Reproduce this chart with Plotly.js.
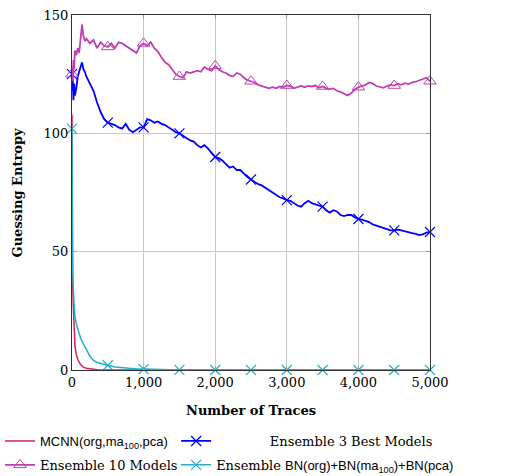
<!DOCTYPE html>
<html>
<head>
<meta charset="utf-8">
<script src="https://cdn.plot.ly/plotly-3.0.1.min.js"></script>
<style>html,body{margin:0;padding:0;background:#fff;}#chart{width:515px;height:476px;}</style>
</head>
<body>
<div id="chart"></div>
<script>
// x grid (number of traces) shared by the two upper curves
const xMain = [0,5,10,20,30,40,60,80,100,120,140,160,180,200,250,300,350,400,450,500,
  550,600,650,700,750,800,850,900,950,1000,1050,1100,1150,1200,1250,1300,1350,1400,1450,1500,
  1550,1600,1650,1700,1750,1800,1850,1900,1950,2000,2050,2100,2150,2200,2250,2300,2350,2400,2450,2500,
  2550,2600,2650,2700,2750,2800,2850,2900,2950,3000,3050,3100,3150,3200,3250,3300,3350,3400,3450,3500,
  3550,3600,3650,3700,3750,3800,3850,3900,3950,4000,4050,4100,4150,4200,4250,4300,4350,4400,4450,4500,
  4550,4600,4650,4700,4750,4800,4850,4900,4950,5000];

const ens10 = [125,128,122,131,127,135,133,136,134,140,146,141,139,140,138,139.5,136,138.5,137,136.5,
  138,136,138.5,138,137,136,135,134,137,138,137,138.5,136,134.5,132,130,129,127,125,124,
  123.5,126,125.5,126,126.5,126,128,127,126.5,128.5,127,126,125.5,124.5,124,125.5,125,123.5,122.5,122,
  121.5,120.5,120,119.5,119,119.5,119,119.8,119.5,120.2,120,119,119.5,120,119.5,120,119.8,120.2,119.3,119.8,
  119,118.7,119,118,117.5,116.8,116,117,118.5,119.5,120,120.5,121.5,121,120,119.5,119.2,120,120.5,120.2,
  121,120.5,121.2,120.8,121.5,121.8,122.3,123,123.5,122];

const ens3 = [125,118,123,114,121,116,119,124,126,128,130,127,126,124,121,118,113,109,106,104.5,
  104,103.5,102.5,102,104,101.5,100.5,101.5,102.5,102.5,106,105.5,104.5,105,104,103.5,102.5,101.5,100.5,100,
  99,98,97,96.5,95,94,95,93.5,91.5,90,89.5,88.5,87,85.5,86,84.5,84.5,83,81.5,80.5,
  79.5,78.5,78,77,76,75,74,73,72.5,71.8,71.5,70.5,69.5,69,70.5,71.5,70.5,70,69.5,69,
  67.5,66.5,67.5,67,65.5,65,65.5,65.5,64.5,63.8,63.5,63,62.5,61.5,61,60.5,60,59.5,59,59,
  59.3,59,58.5,58.2,57.8,57.5,57,57.3,58,58.3];

const xBN = [0,5,10,20,30,40,60,80,100,120,140,160,180,200,250,300,350,400,450,500,
  600,700,800,900,1000,1200,1500,2000,2500,3000,3500,4000,4500,5000];
const ensBN = [102,60,42,33,28,23,19.5,17,15.5,13.5,12.5,11,9.7,8.8,5.8,4,3.2,2.9,2.3,2,
  1.3,0.9,0.7,0.5,0.4,0.2,0.05,0,0,0,0,0,0,0];

const xMCNN = [0,3,8,18,28,42,60,84,120,154,200,250,350,500,1000,5000];
const mcnn = [108,60,38,27,18,10,6.5,4.2,2.3,1.3,0.7,0.4,0.1,0,0,0];

const names = [
  '<span style="font-family:Liberation Sans">MCNN(org,ma<sub>100</sub>,pca)</span>',
  '&nbsp;&nbsp;&nbsp;&nbsp;&nbsp;&nbsp;&nbsp;&nbsp;&nbsp;&nbsp;&nbsp;&nbsp;&nbsp;Ensemble 3 Best Models',
  'Ensemble 10 Models',
  'Ensemble <span style="font-family:Liberation Sans">BN(org)+BN(ma<sub>100</sub>)+BN(pca)</span>'
];
const xTitle = 'Number of Traces';
const yTitle = 'Guessing Entropy';
const xTicks = [0,1000,2000,3000,4000,5000];
const yTicks = [0,50,100,150];

// marks drawn every 500 traces (like pgfplots "mark repeat"); other points get a transparent mark
function markColors(xs, c){ return xs.map(v => (v % 500 === 0 ? c : 'rgba(0,0,0,0)')); }

const cRed = '#d4234f', cBlue = '#0000ff', cMag = '#bf40b2', cCyan = '#27aecb';

const traces = [
  {x: xMCNN, y: mcnn, name: names[0], legend: 'legend', legendgroup: 'a', mode: 'lines',
   line: {color: cRed, width: 1.5}, cliponaxis: false},
  {x: xMain, y: ens3, name: names[1], legend: 'legend2', legendgroup: 'b', mode: 'lines+markers',
   line: {color: cBlue, width: 1.8},
   marker: {symbol: 'x-thin-open', size: 10, color: markColors(xMain, cBlue), line: {width: 1.2}}, cliponaxis: false},
  {x: xMain, y: ens10, name: names[2], legend: 'legend', legendgroup: 'c', mode: 'lines+markers',
   line: {color: cMag, width: 1.8},
   marker: {symbol: 'triangle-up-open', size: 11, color: markColors(xMain, cMag), line: {width: 1}}, cliponaxis: false},
  {x: xBN, y: ensBN, name: names[3], legend: 'legend2', legendgroup: 'd', mode: 'lines+markers',
   line: {color: cCyan, width: 1.5},
   marker: {symbol: 'x-thin-open', size: 10, color: markColors(xBN, cCyan), line: {width: 1.2}}, cliponaxis: false}
];

const serif = 'DejaVu Serif';
const layout = {
  width: 515, height: 476,
  margin: {l: 72, r: 85, t: 15, b: 106, autoexpand: false},
  paper_bgcolor: '#fff', plot_bgcolor: '#fff',
  font: {family: serif, size: 13, color: '#000'},
  showlegend: true,
  xaxis: {
    range: [0, 5000], tickvals: xTicks, tickformat: ',d', automargin: false,
    showgrid: true, gridcolor: '#c8c8c8', gridwidth: 1, zeroline: false,
    showline: true, linecolor: '#333', linewidth: 1, mirror: 'ticks',
    ticks: 'inside', ticklen: 4, tickcolor: '#999',
    tickfont: {family: serif, size: 13}
  },
  yaxis: {
    range: [0, 150], tickvals: yTicks, automargin: false,
    showgrid: true, gridcolor: '#c8c8c8', gridwidth: 1, zeroline: false,
    showline: true, linecolor: '#333', linewidth: 1, mirror: 'ticks',
    ticks: 'inside', ticklen: 4, tickcolor: '#999',
    tickfont: {family: serif, size: 13}
  },
  annotations: [
    {text: xTitle, xref: 'paper', yref: 'paper', x: 0.5, y: -0.113, xanchor: 'center', yanchor: 'middle',
     showarrow: false, font: {family: serif, size: 13, weight: 'bold'}},
    {text: yTitle, xref: 'paper', yref: 'paper', x: -0.151, y: 0.5, xanchor: 'center', yanchor: 'middle',
     textangle: -90, showarrow: false, font: {family: serif, size: 13, weight: 'bold'}}
  ],
  legend: {
    orientation: 'v', xref: 'container', yref: 'container',
    x: 0, y: 0.105, xanchor: 'left', yanchor: 'top', tracegroupgap: 4,
    font: {family: serif, size: 13}, bgcolor: 'rgba(0,0,0,0)', borderwidth: 0
  },
  legend2: {
    orientation: 'v', xref: 'container', yref: 'container',
    x: 0.342, y: 0.105, xanchor: 'left', yanchor: 'top', tracegroupgap: 4,
    font: {family: serif, size: 13}, bgcolor: 'rgba(0,0,0,0)', borderwidth: 0
  }
};

Plotly.newPlot('chart', traces, layout, {displayModeBar: false, staticPlot: true});
</script>
</body>
</html>
